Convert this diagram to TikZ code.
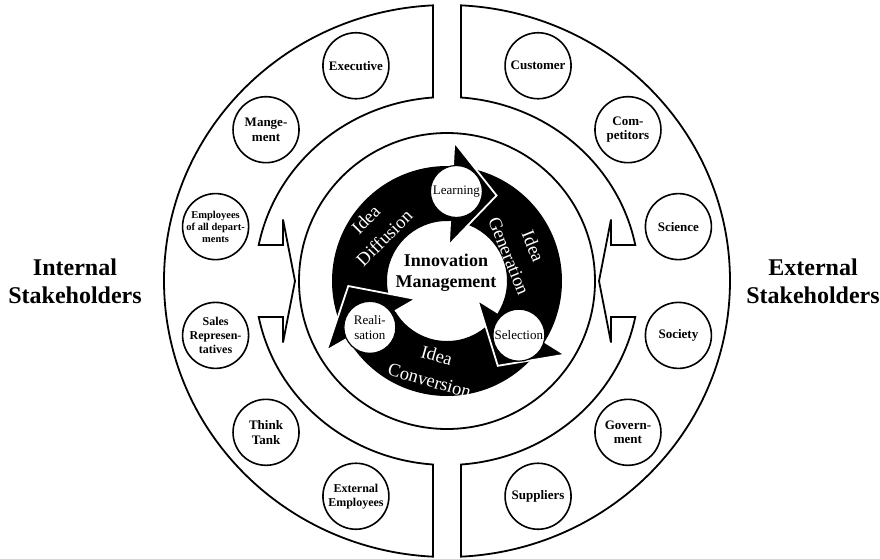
\documentclass[tikz,border=0pt]{standalone}
\usepackage{fontspec}
\setmainfont{Liberation Serif}
\tikzset{
  band/.style={draw=black, line width=1.8pt, fill=white, line join=miter},
  stakebox/.style={circle, draw=black, line width=1.6pt, fill=white,
                   minimum size=66pt, inner sep=0pt, align=center,
                   font=\bfseries\fontsize{13}{14.5}\selectfont},
  phasebox/.style={circle, draw=black, line width=1.2pt, fill=white,
                   minimum size=52pt, inner sep=0pt, align=center,
                   font=\fontsize{13}{15}\selectfont},
  ringtext/.style={text=white, align=center, inner sep=0pt,
                   font=\fontsize{18.5}{26}\selectfont},
  headshape/.style={fill=black, draw=white, line width=1.8pt},
  sidetext/.style={align=center, font=\bfseries\fontsize{24}{28}\selectfont}
}

\begin{document}
\begin{tikzpicture}[x=1pt, y=1pt]
    \useasboundingbox (-447,-277) rectangle (433,281);

    % Two stakeholder bands, each with a notch pointing inwards
    \foreach \side in {1,-1}{
        \draw[band, xscale=\side] (92.84:283 and 276)
            arc[start angle=92.84, end angle=267.16, x radius=283, y radius=276]
            -- (265.82:192 and 184)
            arc[start angle=265.82, end angle=191.28, x radius=192, y radius=184]
            -- (-164,-36) -- (-164,-61.5) -- (-152,0) -- (-164,61.5) -- (-164,36)
            -- (168.72:192 and 184)
            arc[start angle=168.72, end angle=94.18, x radius=192, y radius=184]
            -- cycle;
    }

    % Inner circle and black cycle ring
    \draw[band] (0,0) circle[radius=148];
    \fill[black, even odd rule] (0,0) circle[radius=115] circle[radius=60];

    % Arrow heads of the cycle
    \foreach \b in {87,-32,210}
        \filldraw[headshape, rotate=\b-90] (0,60) -- (0,36) -- (45,88) -- (0,139) -- (0,115);

    % Phases
    \node[phasebox] (learning) at (84:90) {Learning};
    \node[phasebox] (selection) at (-37:90) {Selection};
    \node[phasebox] (realisation) at (211:90) {Reali-\\sation};

    \node[ringtext, rotate=45] (diffusion) at (144:89) {Idea\\Diffusion};
    \node[ringtext, rotate=-68] (generation) at (22:80) {Idea\\Generation};
    \node[ringtext, rotate=-16] (conversion) at (261:88) {Idea\\Conversion};

    \node[align=center, font=\bfseries\fontsize{18}{21}\selectfont] (innovation) at (-1,8)
        {Innovation\\Management};

    % Internal stakeholders
    \node[stakebox] (executive) at (112.5:238 and 233) {Executive};
    \node[stakebox] (management) at (139.5:238 and 233) {Mange-\\ment};
    \node[stakebox, font=\bfseries\fontsize{10.5}{12}\selectfont] (employees)
        at (166.5:238 and 233) {Employees\\of all depart-\\ments};
    \node[stakebox, font=\bfseries\fontsize{12}{14}\selectfont] (sales)
        at (193.5:238 and 233) {Sales\\Represen-\\tatives};
    \node[stakebox] (thinktank) at (220.5:238 and 233) {Think\\Tank};
    \node[stakebox, font=\bfseries\fontsize{12}{14}\selectfont] (extemployees)
        at (247.5:238 and 233) {External\\Employees};

    % External stakeholders
    \node[stakebox] (customer) at (67.5:238 and 233) {Customer};
    \node[stakebox] (competitors) at (40.5:238 and 233) {Com-\\petitors};
    \node[stakebox] (science) at (13.5:238 and 233) {Science};
    \node[stakebox] (society) at (-13.5:238 and 233) {Society};
    \node[stakebox] (government) at (-40.5:238 and 233) {Govern-\\ment};
    \node[stakebox] (suppliers) at (-67.5:238 and 233) {Suppliers};

    \node[sidetext] (internal) at (-372,0) {Internal\\Stakeholders};
    \node[sidetext] (external) at (366,0) {External\\Stakeholders};
\end{tikzpicture}
\end{document}
